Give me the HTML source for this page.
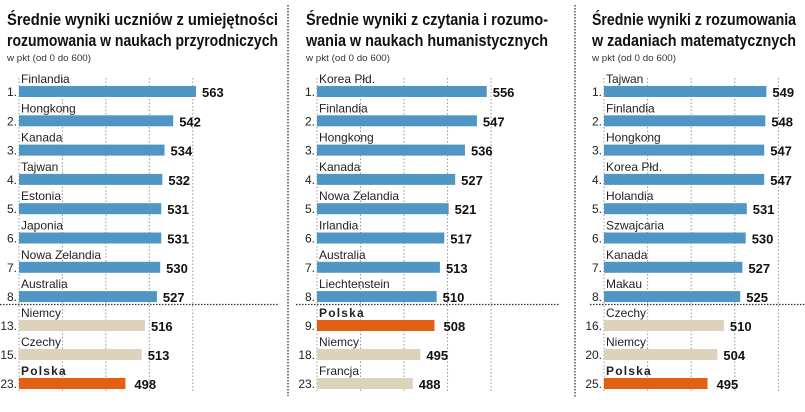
<!DOCTYPE html>
<html><head><meta charset="utf-8"><style>
html,body{margin:0;padding:0;background:#fff;}
svg{display:block;font-family:"Liberation Sans",sans-serif;}
</style></head><body>
<svg id="c" width="805" height="412" viewBox="0 0 805 412" xmlns="http://www.w3.org/2000/svg"></svg>
<script>
const p1Names=["Finlandia","Hongkong","Kanada","Tajwan","Estonia","Japonia","Nowa Zelandia","Australia","Niemcy","Czechy","Polska"];
const p1Ranks=["1.","2.","3.","4.","5.","6.","7.","8.","13.","15.","23."];
const p1Values=[563,542,534,532,531,531,530,527,516,513,498];
const p2Names=["Korea Płd.","Finlandia","Hongkong","Kanada","Nowa Zelandia","Irlandia","Australia","Liechtenstein","Polska","Niemcy","Francja"];
const p2Ranks=["1.","2.","3.","4.","5.","6.","7.","8.","9.","18.","23."];
const p2Values=[556,547,536,527,521,517,513,510,508,495,488];
const p3Names=["Tajwan","Finlandia","Hongkong","Korea Płd.","Holandia","Szwajcaria","Kanada","Makau","Czechy","Niemcy","Polska"];
const p3Ranks=["1.","2.","3.","4.","5.","6.","7.","8.","16.","20.","25."];
const p3Values=[549,548,547,547,531,530,527,525,510,504,495];
const gridTicks=[440,480,520,560];

const NS="http://www.w3.org/2000/svg";
const svg=document.getElementById('c');
function mk(tag,attrs,parent){const e=document.createElementNS(NS,tag);for(const k in attrs)e.setAttribute(k,attrs[k]);(parent||svg).appendChild(e);return e;}

const panels=[
 {id:"science",names:p1Names,ranks:p1Ranks,values:p1Values,x0:19,k:1.086,tx:7,t1:"Średnie wyniki uczniów z umiejętności",t2:"rozumowania w naukach przyrodniczych",tw:271,sepX1:0,sepX2:278,polska:10},
 {id:"reading",names:p2Names,ranks:p2Ranks,values:p2Values,x0:317,k:1.088,tx:306,t1:"Średnie wyniki z czytania i rozumo-",t2:"wania w naukach humanistycznych",tw:242,sepX1:296,sepX2:560,polska:8},
 {id:"math",names:p3Names,ranks:p3Ranks,values:p3Values,x0:604,k:1.09,tx:592,t1:"Średnie wyniki z rozumowania",t2:"w zadaniach matematycznych",tw:204,sepX1:590,sepX2:805,polska:10}
];
const rowTop=[86,115.3,144.6,173.9,203.2,232.5,261.8,291.1,320,349,378];

// dividers
let d=mk('line',{x1:288,y1:5,x2:288,y2:396,stroke:'#333','stroke-width':1.3,'stroke-dasharray':'1.5 1.5'});

d=mk('line',{x1:575,y1:5,x2:575,y2:398,stroke:'#333','stroke-width':1.3,'stroke-dasharray':'1.5 1.5'});


panels.forEach(p=>{
 const g=mk('g',{});
 
 
 const xs=v=>p.x0+(v-400)*p.k;
 let t=mk('text',{x:p.tx,y:25,'font-size':17,'font-weight':'bold',fill:'#111',textLength:p.tw,lengthAdjust:'spacingAndGlyphs'},g);t.textContent=p.t1;
 
 t=mk('text',{x:p.tx,y:46,'font-size':17,'font-weight':'bold',fill:'#111',textLength:p.tw+(p.id==='science'?0:0),lengthAdjust:'spacingAndGlyphs'},g);t.textContent=p.t2;
 
 t=mk('text',{x:p.tx,y:61,'font-size':9.5,fill:'#333',textLength:84,lengthAdjust:'spacingAndGlyphs'},g);t.textContent="w pkt (od 0 do 600)";
 
 // gridlines
 [400].concat(gridTicks).forEach(v=>{
  const l=mk('line',{x1:xs(v),y1:78,x2:xs(v),y2:392,stroke:'#999','stroke-width':1,'stroke-dasharray':'1.5 2'},g);
  
  
 });
 // separator
 const s=mk('line',{x1:p.sepX1,y1:304.5,x2:p.sepX2,y2:304.5,stroke:'#333','stroke-width':1.3,'stroke-dasharray':'1.5 1.5'},g);
 
 
 p.values.forEach((v,i)=>{
  const y=rowTop[i];
  const isPl=i===p.polska;
  const fill=isPl?'#e35f12':(i<8?'#4f96c4':'#ddd3bb');
  const bw=xs(v)-p.x0;
  const r=mk('rect',{x:p.x0,y:y,width:bw,height:11,fill:fill},g);
  
  
  let n=mk('text',{x:p.x0+2,y:y-3,'font-size':12,fill:'#222','font-weight':isPl?'bold':'normal','letter-spacing':isPl?'1.2':'0'},g);
  n.textContent=p.names[i];
  
  
  let rk=mk('text',{x:p.x0-2,y:y+10,'font-size':12,fill:'#222','text-anchor':'end'},g);
  rk.textContent=p.ranks[i];
  
  
  let vl=mk('text',{x:xs(v)+(isPl?9:6),y:y+11,'font-size':13,'font-weight':'bold',fill:'#111'},g);
  vl.textContent=v;
  
  
 });
});
</script>
</body></html>
